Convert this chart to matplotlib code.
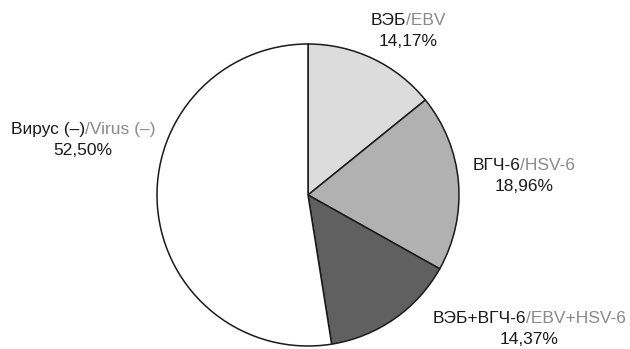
import matplotlib
matplotlib.use("Agg")
import matplotlib.pyplot as plt
from matplotlib.offsetbox import TextArea, HPacker, VPacker, AnnotationBbox

labels_ru = ["ВЭБ", "ВГЧ-6", "ВЭБ+ВГЧ-6", "Вирус (–)"]
labels_en = ["EBV", "HSV-6", "EBV+HSV-6", "Virus (–)"]
values = [14.17, 18.96, 14.37, 52.50]
value_texts = ["14,17%", "18,96%", "14,37%", "52,50%"]

colors = ["#dcdcdc", "#b1b1b1", "#606060", "#ffffff"]
# label block centers in pixel coords (x, y from top)
label_pos = [(408, 31), (524, 176), (529, 329), (83, 140)]

W, H = 630, 349
fig = plt.figure(figsize=(W / 100, H / 100), dpi=100)
ax = fig.add_axes([0, 0, 1, 1])
ax.set_xlim(0, W)
ax.set_ylim(0, H)
ax.set_aspect("equal")
ax.axis("off")

cx, cy, r = 308, H - 195, 151
ax.pie(values, colors=colors, startangle=90, counterclock=False,
       center=(cx, cy), radius=r,
       wedgeprops=dict(edgecolor="#1a1a1a", linewidth=1.1))
ax.set_xlim(0, W)
ax.set_ylim(0, H)

font = dict(family=["Liberation Sans", "DejaVu Sans"], size=12.5)
for ru, en, vt, (px, py) in zip(labels_ru, labels_en, value_texts, label_pos):
    t1 = TextArea(ru, textprops=dict(color="#1a1a1a", **font))
    t2 = TextArea("/" + en, textprops=dict(color="#8a8a8a", **font))
    line1 = HPacker(children=[t1, t2], align="baseline", pad=0, sep=0)
    t3 = TextArea(vt, textprops=dict(color="#1a1a1a", **font))
    box = VPacker(children=[line1, t3], align="center", pad=0, sep=4)
    ab = AnnotationBbox(box, (px, H - py), xycoords="data", frameon=False,
                        box_alignment=(0.5, 0.5), pad=0)
    ax.add_artist(ab)

fig.savefig("out.png", dpi=100)
